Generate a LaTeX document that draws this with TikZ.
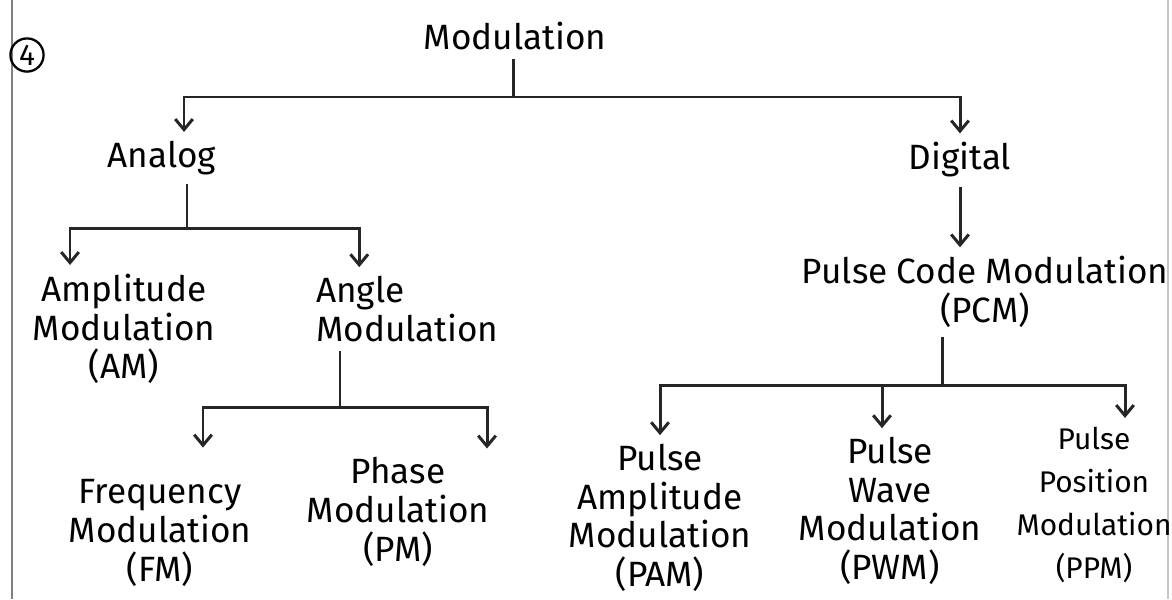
\documentclass[tikz,border=0pt]{standalone}
\usepackage{fontspec}
\setmainfont{Fira Sans}
\usetikzlibrary{arrows.meta,calc}

\begin{document}
\begin{tikzpicture}[x=0.02cm,y=-0.02cm,
		wire/.style={line width=1.7pt,color=black!85},
		arr/.style={wire,-{Straight Barb[length=6pt,width=10pt]}},
		lbl/.style={align=center,inner sep=5pt,font=\fontsize{20}{22}\selectfont}]
	\useasboundingbox (0,0) rectangle (1172,599);
	% page margins
	\draw[line width=1.6pt,gray] (12,0) -- (12,599);
	\draw[line width=1pt,gray!45] (1168,0) -- (1168,599);
	\node[draw,circle,line width=1.3pt,inner sep=1.5pt,font=\fontsize{17}{17}\selectfont] (qno) at (27,55) {4};

	\node[lbl] (mod) at (515,36) {Modulation};
	\node[lbl] (analog) at (162,158) {Analog};
	\node[lbl] (digital) at (960,160) {Digital};
	\node[lbl] (am) at (124,329) {Amplitude\\Modulation\\(AM)};
	\node[lbl,align=left,anchor=west] (angle) at (307,309) {Angle\\Modulation};
	\node[lbl] (fm) at (160,533) {Frequency\\Modulation\\(FM)};
	\node[lbl] (pm) at (398,512) {Phase\\Modulation\\(PM)};
	\node[lbl] (pcm) at (985,292) {Pulse Code Modulation\\(PCM)};
	\node[lbl] (pam) at (660,518) {Pulse\\Amplitude\\Modulation\\(PAM)};
	\node[lbl] (pwm) at (890,511) {Pulse\\Wave\\Modulation\\(PWM)};
	\node[lbl,font=\fontsize{17}{24.5}\selectfont] (ppm) at (1094,505) {Pulse\\Position\\Modulation\\(PPM)};

	\coordinate (b1) at (513,97);
	\coordinate (b2) at (187,228);
	\coordinate (b3) at (340,407);
	\coordinate (b4) at (942,385);

	\draw[wire] (b1 |- mod.south) -- (b1);
	\draw[arr] (b1) -| ($(analog.north)+(22,0)$);
	\draw[arr] (b1) -| (digital.north);

	\draw[wire] (b2 |- analog.south) -- (b2);
	\draw[arr] (b2) -| ($(am.north)+(-54,0)$);
	\draw[arr] (b2) -| ($(angle.north)+(-48,0)$);

	\draw[wire] (b3 |- angle.south) -- (b3);
	\draw[arr] (b3) -| ($(fm.north)+(43,-23)$);
	\draw[arr] (b3) -| ($(pm.north)+(89,0)$);

	\draw[arr] (digital.south) -- (digital.south |- pcm.north);
	\draw[wire] (b4 |- pcm.south) -- (b4);
	\draw[arr] (b4) -| (pam.north);
	\draw[arr] (b4) -| ($(pwm.north)+(-8,0)$);
	\draw[arr] (b4) -| ($(ppm.north)+(31,0)$);
\end{tikzpicture}
\end{document}
